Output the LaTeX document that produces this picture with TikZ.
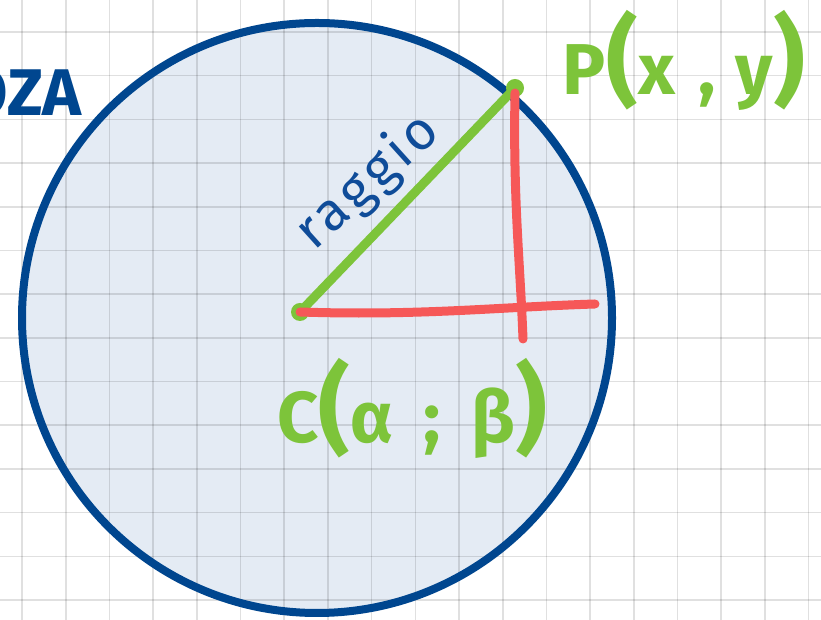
\documentclass[tikz,border=0pt]{standalone}
\usepackage{fontspec}
\setmainfont{Fira Sans}
\usetikzlibrary{positioning}

\definecolor{circleblue}{HTML}{00468F}
\definecolor{circlefill}{HTML}{E4EBF4}
\definecolor{pengreen}{HTML}{7DC43A}
\definecolor{penred}{HTML}{F65858}
\definecolor{penblue}{HTML}{0F4C99}

\newcommand{\bigpar}[1]{{\fontsize{98}{98}\selectfont #1}}

\begin{document}
\begin{tikzpicture}[
	x=1pt, y=1pt,
	gridline/.style={black, opacity=0.12, line width=1.6pt},
	pen/.style={line width=9pt, line cap=round, line join=round},
	handtext/.style={inner sep=0pt, text=pengreen, font=\bfseries\fontsize{72}{72}\selectfont}
]
\useasboundingbox (0,0) rectangle (821,620);
\fill[white] (0,0) rectangle (821,620);
\fill[circlefill] (317,302) circle[radius=295];

% squared paper
\foreach \i in {0,...,18}
	\draw[gridline] ({22+43.7*\i},0) -- ++(0,620);
\foreach \j in {0,...,13}
	\draw[gridline] (0,{588-43.7*\j}) -- ++(821,0);

\draw[circleblue, line width=8pt] (317,302) circle[radius=295];

\coordinate (C) at (300,308);
\coordinate (P) at (515,532);
\coordinate (Vtop) at (515,527);
\coordinate (Hend) at (595,316);
\coordinate (Vfoot) at (523,281);

\draw[pen, pengreen] (C) -- (P);
\fill[pengreen] (C) circle[radius=9];
\fill[pengreen] (P) circle[radius=9];
\draw[pen, penred] (C) .. controls (420,304) and (500,313) .. (Hend);
\draw[pen, penred] (Vtop) .. controls (513,420) and (520,360) .. (Vfoot);

\node[handtext, text=circleblue, anchor=east, font=\bfseries\fontsize{66}{66}\selectfont] (title) at (82,527) {OZA};
\node[handtext] (Plabel) at (684,560) {\addfontfeature{LetterSpace=32}P\bigpar{(}x,y\bigpar{)}};
\node[handtext] (Clabel) at (412,212) {\addfontfeature{LetterSpace=42}C\bigpar{(}α;β\bigpar{)}};
\node[rotate=42, text=penblue, inner sep=0pt, font=\fontsize{54}{54}\selectfont\addfontfeature{LetterSpace=8}] (radiuslabel) at (368,438) {raggio};
\end{tikzpicture}
\end{document}
